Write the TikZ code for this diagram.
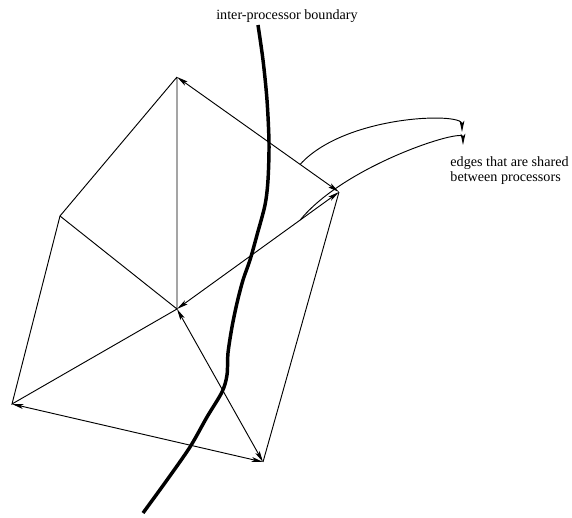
\documentclass[tikz,border=0pt]{standalone}
\usepackage{fontspec}
\setmainfont{Liberation Serif}
\usetikzlibrary{arrows.meta}

\begin{document}
\begin{tikzpicture}[
  x=0.75pt,y=-0.75pt,
  >={Stealth[length=8.5pt,width=3.6pt,inset=2pt]},
  every path/.style={line width=0.7pt},
  note/.style={font=\fontsize{10.6}{11.5}\selectfont,inner sep=0pt,align=left}
]
  \useasboundingbox (0,0) rectangle (572,518);
  % mesh vertices
  \coordinate (top) at (177,77);
  \coordinate (left) at (60,216);
  \coordinate (ctr) at (177,309);
  \coordinate (right) at (339,192);
  \coordinate (botleft) at (12,404);
  \coordinate (bot) at (263,462);
  % labels
  \node[note,anchor=base] (bndtext) at (287,19) {inter-processor boundary};
  \node[note,anchor=north west] (shared) at (450,156) {edges that are shared\\between processors};
  \coordinate (tipa) at (462,132);
  \coordinate (tipb) at (463,145);
  % plain edges
  \draw (top) -- (left) -- (ctr) -- (top);
  \draw (left) -- (botleft) -- (ctr);
  \draw (right) -- (bot);
  % shared edges
  \draw[<->] (top) -- coordinate[pos=0.76] (tredge) (right);
  \draw[<->] (ctr) -- coordinate[pos=0.76] (credge) (right);
  \draw[<->] (ctr) -- (bot);
  \draw[<->] (botleft) -- (bot);
  % pointers to shared edges
  \draw[->] (tredge) .. controls (345,115) and (462,112) .. (tipa);
  \draw[->] (credge) .. controls (345,165) and (463,128) .. (tipb);
  % processor boundary
  \draw[line width=2.6pt] plot[smooth,tension=0.5] coordinates {
    (258,25) (263,60) (267,100) (269,143) (268,180) (265,205) (257,235)
    (250,260) (243,280) (237,303) (232,327) (228,353) (227,375) (222,392)
    (207,417) (190,447) (167,480) (143,513)};
\end{tikzpicture}
\end{document}
